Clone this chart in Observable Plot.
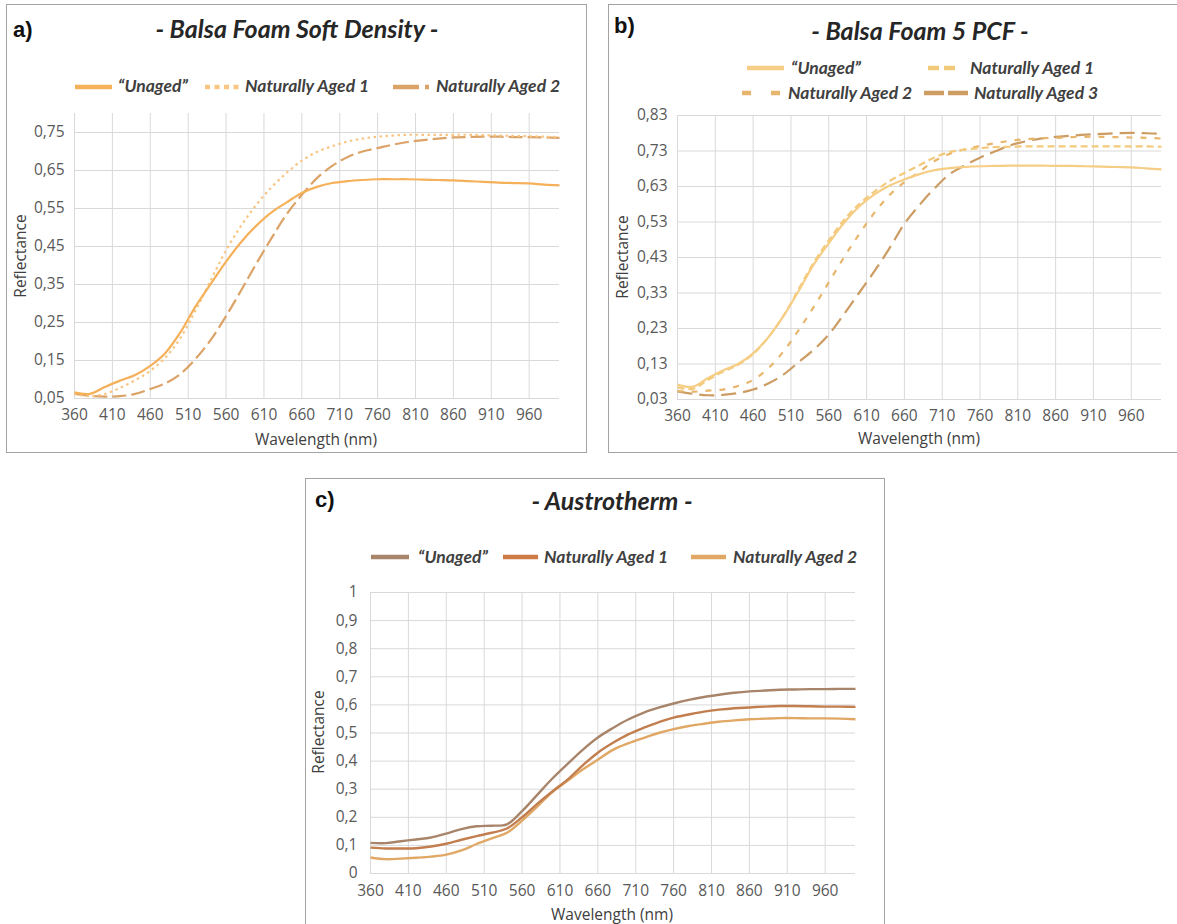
<!DOCTYPE html>
<html>
<head>
<meta charset="utf-8">
<script src="https://cdn.jsdelivr.net/npm/d3@7"></script>
<script src="https://cdn.jsdelivr.net/npm/@observablehq/plot@0.6"></script>
<style>
  html, body { margin: 0; padding: 0; background: #fff; overflow: hidden; }
  body { width: 1177px; height: 924px; position: relative; font-family: "Open Sans", sans-serif; }
  .frame { position: absolute; border: 1.5px solid #a3a3a3; box-sizing: border-box; }
  .abs { position: absolute; white-space: nowrap; }
  .center { transform: translate(-50%, -50%); }
  .vcenter { transform: translateY(-50%); }
  .panel-letter { font-family: "Liberation Sans", Arial, sans-serif; font-weight: bold; font-size: 22px; color: #111; }
  .title { font-family: Lato, "Open Sans", sans-serif; font-weight: bold; font-style: italic; font-size: 25px; color: #262626; }
  .leg { font-family: Lato, "Open Sans", sans-serif; font-weight: bold; font-style: italic; font-size: 17.5px; color: #404040; }
  .axlabel { font-family: "Open Sans", sans-serif; font-size: 15.5px; color: #404040; }
  .plot { position: absolute; }
</style>
</head>
<body>
<script>
// ---------- DATA ----------
const wavelengths = [360,380,400,420,440,460,480,500,520,540,560,580,600,620,640,660,680,700,720,740,760,780,800,820,840,860,880,900,920,940,960,980,1000];
const xTicks = [360,410,460,510,560,610,660,710,760,810,860,910,960];

// a) Balsa Foam Soft Density
const aUnaged = [0.066,0.062,0.080,0.097,0.112,0.136,0.170,0.225,0.293,0.352,0.410,0.462,0.505,0.540,0.566,0.591,0.607,0.617,0.622,0.625,0.627,0.627,0.627,0.626,0.625,0.624,0.622,0.620,0.618,0.617,0.616,0.613,0.611];
const aAged1  = [0.062,0.056,0.062,0.078,0.098,0.123,0.158,0.210,0.283,0.362,0.440,0.505,0.560,0.606,0.644,0.676,0.699,0.714,0.726,0.734,0.739,0.742,0.744,0.744,0.744,0.744,0.744,0.743,0.742,0.741,0.740,0.739,0.738];
const aAged2  = [0.062,0.057,0.055,0.056,0.062,0.075,0.090,0.115,0.155,0.205,0.267,0.335,0.405,0.472,0.535,0.586,0.630,0.662,0.685,0.700,0.709,0.718,0.725,0.730,0.734,0.737,0.738,0.739,0.739,0.738,0.738,0.737,0.736];
const yTicksA = [0.05,0.15,0.25,0.35,0.45,0.55,0.65,0.75];

// b) Balsa Foam 5 PCF
const bUnaged = [0.072,0.066,0.090,0.112,0.130,0.160,0.205,0.265,0.335,0.410,0.470,0.527,0.573,0.607,0.632,0.650,0.665,0.676,0.682,0.685,0.687,0.688,0.689,0.689,0.689,0.688,0.688,0.687,0.686,0.685,0.684,0.681,0.678];
const bAged1  = [0.064,0.060,0.085,0.108,0.128,0.158,0.205,0.265,0.340,0.415,0.478,0.535,0.580,0.615,0.645,0.668,0.690,0.712,0.727,0.734,0.738,0.741,0.742,0.743,0.743,0.743,0.743,0.743,0.743,0.743,0.743,0.743,0.742];
const bAged2  = [0.054,0.052,0.055,0.058,0.068,0.085,0.118,0.165,0.225,0.290,0.360,0.430,0.495,0.555,0.605,0.642,0.672,0.702,0.722,0.735,0.744,0.752,0.759,0.763,0.766,0.767,0.769,0.770,0.770,0.769,0.768,0.767,0.765];
const bAged3  = [0.053,0.046,0.042,0.043,0.048,0.058,0.075,0.100,0.135,0.170,0.213,0.270,0.330,0.390,0.455,0.525,0.578,0.625,0.665,0.690,0.711,0.729,0.746,0.757,0.765,0.770,0.773,0.776,0.778,0.780,0.781,0.780,0.778];
const yTicksB = [0.03,0.13,0.23,0.33,0.43,0.53,0.63,0.73,0.83];

// c) Austrotherm
const cUnaged = [0.109,0.108,0.115,0.121,0.128,0.142,0.158,0.168,0.170,0.175,0.222,0.280,0.338,0.390,0.440,0.484,0.518,0.548,0.572,0.590,0.605,0.618,0.628,0.636,0.643,0.648,0.651,0.654,0.655,0.656,0.656,0.657,0.657];
const cAged1  = [0.092,0.089,0.089,0.090,0.096,0.106,0.120,0.133,0.145,0.160,0.200,0.248,0.292,0.334,0.385,0.430,0.465,0.495,0.518,0.538,0.555,0.566,0.576,0.583,0.588,0.591,0.594,0.596,0.596,0.595,0.594,0.594,0.593];
const cAged2  = [0.057,0.051,0.053,0.056,0.060,0.067,0.082,0.105,0.125,0.145,0.188,0.238,0.290,0.330,0.370,0.405,0.440,0.463,0.482,0.500,0.514,0.525,0.533,0.540,0.545,0.549,0.551,0.553,0.553,0.552,0.552,0.551,0.549];
const yTicksC = [0,0.1,0.2,0.3,0.4,0.5,0.6,0.7,0.8,0.9,1];

// ---------- helpers ----------
const tidy = (arr) => wavelengths.map((w, i) => ({w, r: arr[i]}));
const comma = (d) => String(+d.toFixed(2)).replace(".", ",");
const comma2 = (d) => d.toFixed(2).replace(".", ",");

function el(tag, cls, style, text) {
  const e = document.createElement(tag);
  if (cls) e.className = cls;
  Object.assign(e.style, style || {});
  if (text != null) e.textContent = text;
  document.body.appendChild(e);
  return e;
}

function swatch(x, y, w, color, dash, thick) {
  const ns = "http://www.w3.org/2000/svg";
  const s = document.createElementNS(ns, "svg");
  s.setAttribute("width", w); s.setAttribute("height", 8);
  s.style.position = "absolute"; s.style.left = x + "px"; s.style.top = (y - 4) + "px";
  const l = document.createElementNS(ns, "line");
  l.setAttribute("x1", 0); l.setAttribute("x2", w); l.setAttribute("y1", 4); l.setAttribute("y2", 4);
  l.setAttribute("stroke", color); l.setAttribute("stroke-width", thick || 4.5);
  if (dash) l.setAttribute("stroke-dasharray", dash);
  s.appendChild(l);
  document.body.appendChild(s);
}

function chart(opts) {
  const series = opts.series;
  const p = Plot.plot({
    width: opts.width, height: opts.height,
    marginLeft: opts.ml, marginRight: opts.mr, marginTop: opts.mt, marginBottom: opts.mb,
    x: {domain: [360, 1000]},
    y: {domain: opts.ydomain},
    style: {fontFamily: "'Open Sans', sans-serif", fontSize: "15.5px", color: "#595959", background: "transparent", overflow: "visible"},
    marks: [
      Plot.gridX(xTicks, {stroke: "#d9d9d9", strokeOpacity: 1, strokeWidth: 1}),
      Plot.gridY(opts.yticks, {stroke: "#d9d9d9", strokeOpacity: 1, strokeWidth: 1}),
      Plot.axisX(xTicks, {tickSize: 0, tickPadding: opts.xpad, label: null, tickFormat: (d) => String(d), fill: "#595959", fontSize: 15.5}),
      Plot.axisY(opts.yticks, {tickSize: 0, tickPadding: opts.ypad, label: null, tickFormat: opts.fmt, fill: "#595959", fontSize: 15.5}),
      ...series.map(s => Plot.line(tidy(s.values), {
        x: "w", y: "r", stroke: s.color, strokeWidth: s.width || 2.2,
        strokeDasharray: s.dash || null, curve: "catmull-rom", strokeLinecap: "butt"
      }))
    ]
  });
  p.classList.add("plot");
  p.style.left = opts.left + "px";
  p.style.top = opts.top + "px";
  document.body.appendChild(p);
}

// ---------- frames ----------
el("div", "frame", {left: "6px", top: "4px", width: "581px", height: "449px"});
el("div", "frame", {left: "608px", top: "4px", width: "580px", height: "449px"});
el("div", "frame", {left: "305px", top: "478px", width: "580px", height: "452px"});

// ---------- panel a ----------
const colA = {u: "#f5b05a", a1: "#f8c583", a2: "#dca368"};
el("div", "abs panel-letter vcenter", {left: "13px", top: "30px"}, "a)");
el("div", "abs title center", {left: "297px", top: "28px"}, "- Balsa Foam Soft Density -");
swatch(75, 87, 37, colA.u);
el("div", "abs leg vcenter", {left: "118px", top: "85px"}, "“Unaged”");
swatch(205, 87, 36, colA.a1, "5,4.5");
el("div", "abs leg vcenter", {left: "245px", top: "85px"}, "Naturally Aged 1");
swatch(393, 87, 36, colA.a2, "26,6");
el("div", "abs leg vcenter", {left: "436px", top: "85px"}, "Naturally Aged 2");
chart({
  left: 7, top: 100, width: 579, height: 350, ml: 67, mr: 27, mt: 13, mb: 52, xpad: 10, ypad: 10,
  ydomain: [0.05, 0.80], yticks: yTicksA, fmt: comma2,
  series: [
    {values: aAged2, color: colA.a2, dash: "14,5"},
    {values: aAged1, color: colA.a1, dash: "2.5,3.5"},
    {values: aUnaged, color: colA.u}
  ]
});
el("div", "abs axlabel center", {left: "316px", top: "439px"}, "Wavelength (nm)");
el("div", "abs axlabel center", {left: "20px", top: "256px", transform: "translate(-50%,-50%) rotate(-90deg)"}, "Reflectance");

// ---------- panel b ----------
const colB = {u: "#f6cd84", a1: "#f3c97a", a2: "#e8b56c", a3: "#cc9c62"};
el("div", "abs panel-letter vcenter", {left: "614px", top: "26px"}, "b)");
el("div", "abs title center", {left: "920px", top: "30px"}, "- Balsa Foam 5 PCF -");
swatch(747, 68, 37, colB.u);
el("div", "abs leg vcenter", {left: "791px", top: "67px"}, "“Unaged”");
swatch(928, 68, 27, colB.a1, "11,5");
el("div", "abs leg vcenter", {left: "970px", top: "67px"}, "Naturally Aged 1");
swatch(742, 93, 38, colB.a2, "9,20");
el("div", "abs leg vcenter", {left: "788px", top: "92px"}, "Naturally Aged 2");
swatch(924, 93, 44, colB.a3, "20,4");
el("div", "abs leg vcenter", {left: "974px", top: "92px"}, "Naturally Aged 3");
chart({
  left: 609, top: 100, width: 568, height: 350, ml: 68, mr: 16, mt: 15, mb: 51, xpad: 10, ypad: 10,
  ydomain: [0.03, 0.83], yticks: yTicksB, fmt: comma2,
  series: [
    {values: bAged3, color: colB.a3, dash: "15,7"},
    {values: bAged2, color: colB.a2, dash: "6,8"},
    {values: bAged1, color: colB.a1, dash: "7,4"},
    {values: bUnaged, color: colB.u}
  ]
});
el("div", "abs axlabel center", {left: "919px", top: "438px"}, "Wavelength (nm)");
el("div", "abs axlabel center", {left: "622px", top: "257px", transform: "translate(-50%,-50%) rotate(-90deg)"}, "Reflectance");

// ---------- panel c ----------
const colC = {u: "#a8856a", a1: "#c27e4e", a2: "#e0a765"};
el("div", "abs panel-letter vcenter", {left: "315px", top: "500px"}, "c)");
el("div", "abs title center", {left: "612px", top: "500px"}, "- Austrotherm -");
swatch(371, 557, 38, colC.u);
el("div", "abs leg vcenter", {left: "418px", top: "556px"}, "“Unaged”");
swatch(503, 557, 35, "#cf7a44");
el("div", "abs leg vcenter", {left: "544px", top: "556px"}, "Naturally Aged 1");
swatch(691, 557, 35, colC.a2);
el("div", "abs leg vcenter", {left: "733px", top: "556px"}, "Naturally Aged 2");
chart({
  left: 306, top: 580, width: 578, height: 340, ml: 64, mr: 29, mt: 12, mb: 47, xpad: 11, ypad: 13,
  ydomain: [0, 1], yticks: yTicksC, fmt: comma,
  series: [
    {values: cAged2, color: colC.a2, width: 2.4},
    {values: cAged1, color: colC.a1, width: 2.4},
    {values: cUnaged, color: colC.u, width: 2.4}
  ]
});
el("div", "abs axlabel center", {left: "612px", top: "914px"}, "Wavelength (nm)");
el("div", "abs axlabel center", {left: "318px", top: "732px", transform: "translate(-50%,-50%) rotate(-90deg)"}, "Reflectance");
</script>
</body>
</html>
